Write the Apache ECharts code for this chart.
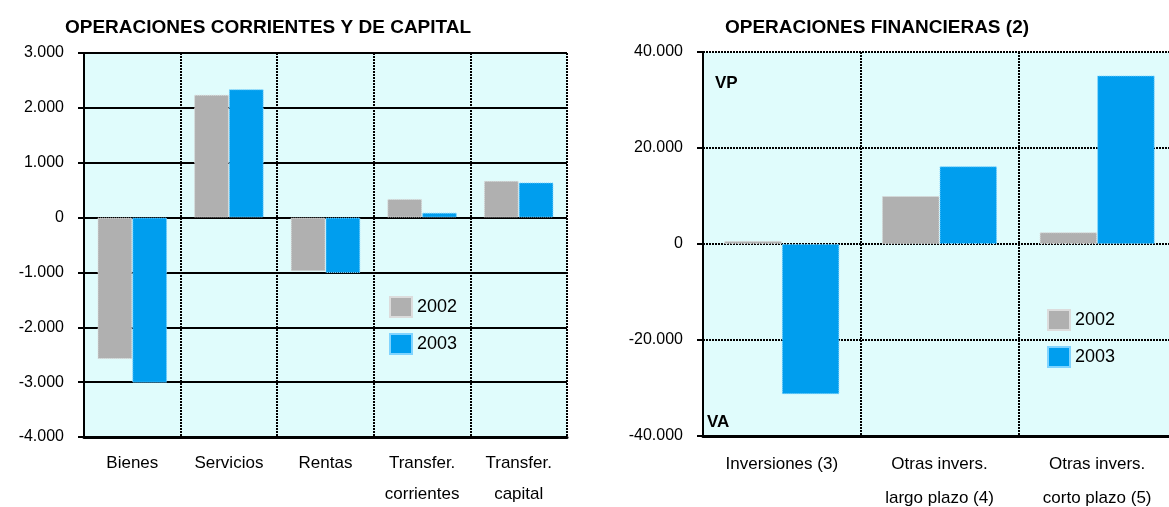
<!DOCTYPE html>
<html>
<head>
<meta charset="utf-8">
<script src="https://cdn.jsdelivr.net/npm/echarts@6/dist/echarts.min.js"></script>
<style>
html, body { margin: 0; padding: 0; background: #fff; }
#chart { width: 1169px; height: 507px; }
</style>
</head>
<body>
<div id="chart"></div>
<script>
// saldos, millones de euros
var catsCorr = ['Bienes', 'Servicios', 'Rentas', 'Transfer.\ncorrientes', 'Transfer.\ncapital'];
var corr2002 = [-2580, 2240, -980, 340, 670];
var corr2003 = [-3010, 2340, -1010, 90, 640];

var catsFin = ['Inversiones (3)', 'Otras invers.\nlargo plazo (4)', 'Otras invers.\ncorto plazo (5)'];
var fin2002 = [600, 10000, 2450];
var fin2003 = [-31300, 16200, 35100];

var years = ['2002', '2003'];

var GRAY = '#b0b0b0', BLUE = '#009eee';
var font = 'Arial, "Liberation Sans", sans-serif';

function miles(v) {
    var s = String(Math.abs(v)).replace(/\B(?=(\d{3})+(?!\d))/g, '.');
    return (v < 0 ? '-' : '') + s;
}

function yAx(idx, min, max, step, lineType) {
    return {
        type: 'value', gridIndex: idx, min: min, max: max, interval: step,
        axisLine: {show: true, lineStyle: {color: '#000', width: 2}},
        axisTick: {show: true, length: 6, lineStyle: {color: '#000', width: 2}},
        axisLabel: {formatter: miles, color: '#000', fontSize: 16, fontFamily: font, margin: 20},
        splitLine: {show: true, lineStyle: {color: '#000', width: 2, type: lineType}}
    };
}

function xAx(idx, data, lh, baseType) {
    return {
        type: 'category', gridIndex: idx, data: data,
        axisLine: {onZero: false, lineStyle: {color: '#000', width: 3, type: baseType}},
        axisTick: {show: false},
        axisLabel: {interval: 0, color: '#000', fontSize: 17, fontFamily: font, margin: 11, lineHeight: lh},
        splitLine: {show: true, lineStyle: {color: '#000', width: 2, type: [2, 1]}}
    };
}

function barSerie(name, xi, data, color, border, gap) {
    return {
        name: name, type: 'bar', xAxisIndex: xi, yAxisIndex: xi, data: data,
        barGap: '0%', barCategoryGap: gap,
        itemStyle: {color: color, borderColor: border, borderWidth: 1, borderType: 'dotted'}
    };
}

function leyenda(x, y) {
    return {
        data: years, orient: 'vertical', left: x, top: y, padding: 0,
        itemWidth: 22, itemHeight: 20, itemGap: 15, icon: 'rect',
        textStyle: {fontSize: 18, lineHeight: 20, color: '#000', fontFamily: font}
    };
}

var myChart = echarts.init(document.getElementById('chart'));
var option = {
    animation: false,
    textStyle: {fontFamily: font},
    title: [
        {text: 'OPERACIONES CORRIENTES Y DE CAPITAL', left: 60, top: 13,
         textStyle: {fontSize: 19, fontWeight: 'bold', color: '#000', fontFamily: font}},
        {text: 'OPERACIONES FINANCIERAS (2)', left: 720, top: 13,
         textStyle: {fontSize: 19, fontWeight: 'bold', color: '#000', fontFamily: font}}
    ],
    legend: [leyenda(389, 296), leyenda(1047, 309)],
    grid: [
        {left: 84, top: 53, width: 483, height: 384, show: true, backgroundColor: '#e0fcfc',
         borderWidth: 0, outerBoundsMode: 'none'},
        {left: 703, top: 52, width: 473, height: 384, show: true, backgroundColor: '#e0fcfc',
         borderWidth: 0, outerBoundsMode: 'none'}
    ],
    xAxis: [xAx(0, catsCorr, 31, 'solid'), xAx(1, catsFin, 34, [3, 1])],
    yAxis: [yAx(0, -4000, 3000, 1000, 'solid'), yAx(1, -40000, 40000, 20000, [2, 1])],
    graphic: [
        {type: 'text', left: 715, top: 75, style: {text: 'VP', font: 'bold 17px ' + font, fill: '#000'}},
        {type: 'text', left: 707, top: 414, style: {text: 'VA', font: 'bold 17px ' + font, fill: '#000'}}
    ],
    series: [
        barSerie('2002', 0, corr2002, GRAY, '#dcdcdc', '28%'),
        barSerie('2003', 0, corr2003, BLUE, '#80d4ff', '28%'),
        barSerie('2002', 1, fin2002, GRAY, '#dcdcdc', '27%'),
        barSerie('2003', 1, fin2003, BLUE, '#80d4ff', '27%')
    ]
};
myChart.setOption(option);
</script>
</body>
</html>
